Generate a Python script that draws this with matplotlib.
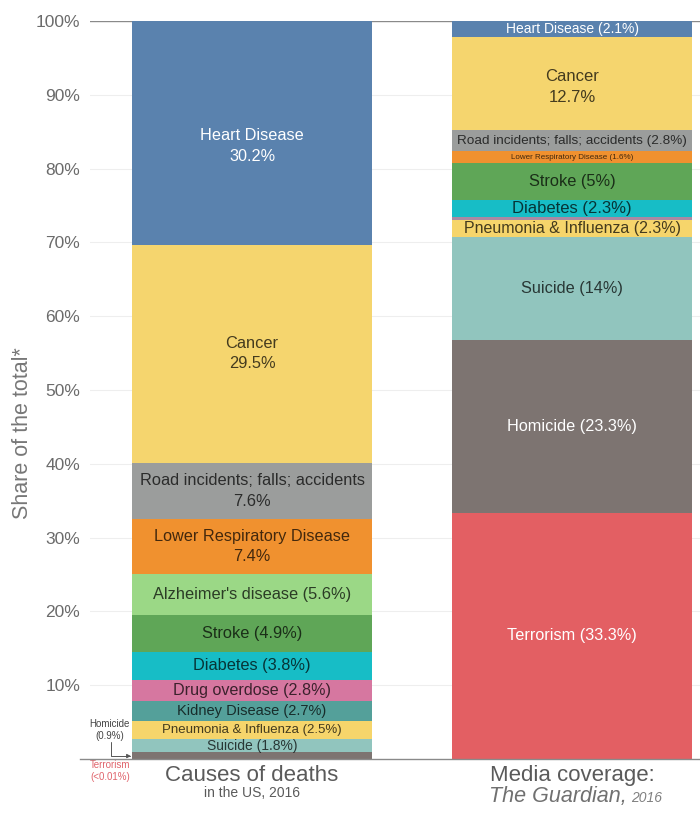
import matplotlib.pyplot as plt

plt.rcParams['font.family'] = ['Liberation Sans', 'DejaVu Sans']

# causes of death in the US, 2016 (bottom -> top)
death_causes = ["Homicide", "Suicide", "Pneumonia & Influenza", "Kidney Disease",
                "Drug overdose", "Diabetes", "Stroke", "Alzheimer's disease",
                "Lower Respiratory Disease", "Road incidents; falls; accidents",
                "Cancer", "Heart Disease"]
death_share = [0.9, 1.8, 2.5, 2.7, 2.8, 3.8, 4.9, 5.6, 7.4, 7.6, 29.5, 30.2]
death_labels = ["", "Suicide (1.8%)", "Pneumonia & Influenza (2.5%)",
                "Kidney Disease (2.7%)", "Drug overdose (2.8%)", "Diabetes (3.8%)",
                "Stroke (4.9%)", "Alzheimer's disease (5.6%)",
                "Lower Respiratory Disease\n7.4%",
                "Road incidents; falls; accidents\n7.6%",
                "Cancer\n29.5%", "Heart Disease\n30.2%"]
death_fontsize = [8, 10, 9.5, 10.5, 11.6, 11.8, 11.8, 11.8, 11.7, 11.8, 11.8, 11.7]

# media coverage, The Guardian 2016 (bottom -> top)
media_causes = ["Terrorism", "Homicide", "Suicide", "Pneumonia & Influenza",
                "Drug overdose", "Diabetes", "Stroke", "Lower Respiratory Disease",
                "Road incidents; falls; accidents", "Cancer", "Heart Disease"]
media_share = [33.3, 23.3, 14.0, 2.3, 0.4, 2.3, 5.0, 1.6, 2.8, 12.7, 2.1]
media_labels = ["Terrorism (33.3%)", "Homicide (23.3%)", "Suicide (14%)",
                "Pneumonia & Influenza (2.3%)", "", "Diabetes (2.3%)", "Stroke (5%)",
                "Lower Respiratory Disease (1.6%)",
                "Road incidents; falls; accidents (2.8%)", "Cancer\n12.7%",
                "Heart Disease (2.1%)"]
media_fontsize = [11.7, 11.7, 11.7, 11.5, 8, 12, 11.8, 5.8, 9.7, 12, 10]

colors = {
    "Heart Disease": "#5a82ae",
    "Cancer": "#f5d56e",
    "Road incidents; falls; accidents": "#9b9d9c",
    "Lower Respiratory Disease": "#f0912f",
    "Alzheimer's disease": "#9bd886",
    "Stroke": "#5fa657",
    "Diabetes": "#17bdc6",
    "Drug overdose": "#d677a0",
    "Kidney Disease": "#54a09a",
    "Pneumonia & Influenza": "#f6d56b",
    "Suicide": "#91c5be",
    "Homicide": "#7d7471",
    "Terrorism": "#e35f63",
}
media_override = {"Drug overdose": "#a98aa3"}
light_text = {"Heart Disease", "Terrorism", "Homicide"}
# label nudges (share points) where the original text sits off-centre
label_shift = {("death", "Heart Disease"): -1.8, ("media", "Cancer"): -0.5}

fig = plt.figure(figsize=(7, 8.16), dpi=100)
ax = fig.add_axes([90 / 700, 1 - 759 / 816, 610 / 700, 738 / 816])

width = 0.75
ax.set_xlim(-0.50625, 1.4)
ax.set_ylim(0, 100)


def stack(x, key, causes, shares, labels, sizes, override=None):
    total = sum(shares)
    bottom = 0.0
    for cause, share, label, fs in zip(causes, shares, labels, sizes):
        h = share / total * 100
        color = colors[cause]
        if override and cause in override:
            color = override[cause]
        ax.bar(x, h, width=width, bottom=bottom, color=color,
               linewidth=0, zorder=2)
        if label:
            light = cause in light_text
            ax.text(x, bottom + h / 2 + label_shift.get((key, cause), 0), label,
                    ha="center", va="center", fontsize=fs,
                    color="white" if light else "black",
                    alpha=1.0 if light else 0.72,
                    linespacing=1.45, zorder=3)
        bottom += h


stack(0, "death", death_causes, death_share, death_labels, death_fontsize)
stack(1, "media", media_causes, media_share, media_labels, media_fontsize,
      media_override)

# grid + frame
for y in range(10, 100, 10):
    ax.axhline(y, color="#eeeeee", linewidth=0.8, zorder=0)
ax.plot([-0.5375, 1.4], [0, 0], color="#8a8a8a", linewidth=1.0,
        clip_on=False, zorder=4)
ax.axhline(100, color="#8a8a8a", linewidth=1.0, zorder=1)
for side in ax.spines.values():
    side.set_visible(False)

ax.set_yticks(range(10, 101, 10))
ax.set_yticklabels([f"{v}%" for v in range(10, 101, 10)],
                   fontsize=12.5, color="#6b6b6b")
ax.tick_params(axis="y", length=0, pad=7)
ax.set_xticks([])
ax.set_ylabel("Share of the total*", fontsize=15.5, color="#777777")
ax.yaxis.set_label_coords(-0.0934, 0.442)

# small-segment annotations
ax.text(-0.444, 3.9, "Homicide\n(0.9%)", ha="center", va="center",
        fontsize=7, color="#444444", linespacing=1.25)
ax.annotate("", xy=(-0.378, 0.4), xytext=(-0.44, 2.3),
            arrowprops=dict(arrowstyle="-|>", color="#555555", lw=0.7,
                            connectionstyle="angle,angleA=90,angleB=0,rad=0",
                            mutation_scale=6, shrinkA=0, shrinkB=0),
            annotation_clip=False)
ax.text(-0.444, -1.6, "Terrorism\n(<0.01%)", ha="center", va="center",
        fontsize=7, color="#e0646c", linespacing=1.25, clip_on=False)

# category captions
ax.text(0, -2.3, "Causes of deaths", ha="center", va="center",
        fontsize=16, color="#5a5a5a")
ax.text(0, -4.6, "in the US, 2016", ha="center", va="center",
        fontsize=10, color="#5a5a5a")
ax.text(1, -2.3, "Media coverage:", ha="center", va="center",
        fontsize=16, color="#5a5a5a")
ax.text(1.17, -5.1, "The Guardian,", ha="right", va="center",
        fontsize=15.5, color="#707070", style="italic")
ax.text(1.185, -5.25, "2016", ha="left", va="center",
        fontsize=10, color="#808080", style="italic")

fig.savefig("out.png", dpi=100, facecolor="white")
